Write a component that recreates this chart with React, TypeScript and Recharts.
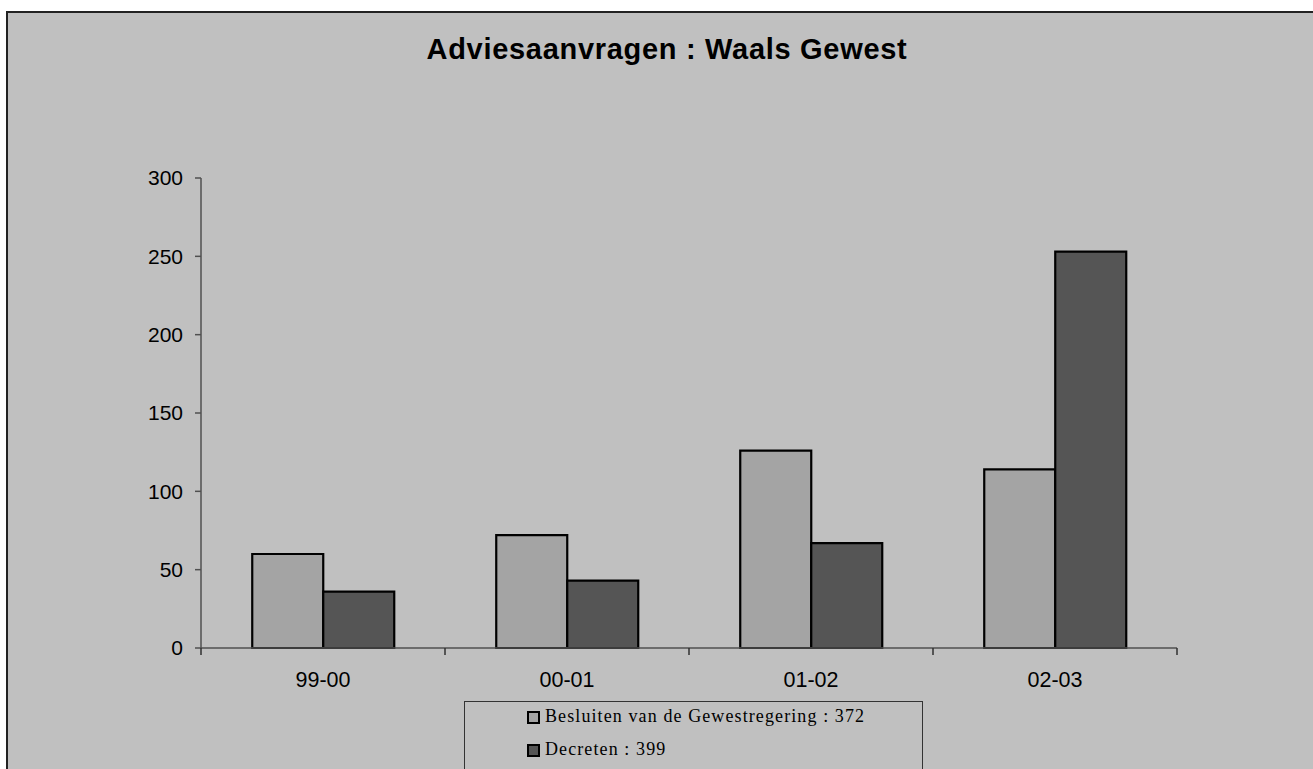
import { BarChart, Bar, XAxis, YAxis } from 'recharts'

const categories = ['99-00', '00-01', '01-02', '02-03']
const besluiten = [60, 72, 126, 114]
const decreten = [36, 43, 67, 253]
const yTicks = [0, 50, 100, 150, 200, 250, 300]

const SERIES = [
  { key: 'besluiten', name: 'Besluiten van de Gewestregering', color: '#a4a4a4', values: besluiten },
  { key: 'decreten', name: 'Decreten', color: '#555555', values: decreten },
]

const data = categories.map((cat, i) => ({
  cat,
  besluiten: besluiten[i],
  decreten: decreten[i],
}))

const total = (values: number[]) => values.reduce((a, b) => a + b, 0)

const FONT = '"Liberation Sans", Arial, sans-serif'

// label in the middle of the category, tick mark on the category edge (Excel style)
function CategoryTick(props: any) {
  const { x, y, payload, index } = props
  const half = payload?.offset ?? 0
  const axisY = y - 24
  return (
    <g>
      <line x1={x - half} y1={axisY} x2={x - half} y2={axisY + 7} stroke="#303030" strokeWidth={1.5} />
      {index === categories.length - 1 && (
        <line x1={x + half} y1={axisY} x2={x + half} y2={axisY + 7} stroke="#303030" strokeWidth={1.5} />
      )}
      <text x={x} y={y} dy="0.71em" textAnchor="middle" fill="#000" fontSize={21.5} fontFamily={FONT}>
        {payload.value}
      </text>
    </g>
  )
}

export default function App() {
  return (
    <div
      style={{
        position: 'absolute',
        left: 0,
        top: 0,
        width: 1313,
        height: 769,
        overflow: 'hidden',
        background: '#ffffff',
      }}
    >
      {/* frame */}
      <div
        style={{
          position: 'absolute',
          left: 6,
          top: 11,
          width: 1340,
          height: 800,
          border: '2px solid #222',
          background: '#c0c0c0',
        }}
      />

      <div
        style={{
          position: 'absolute',
          left: 0,
          top: 35,
          width: 1334,
          textAlign: 'center',
          fontFamily: FONT,
          fontWeight: 'bold',
          fontSize: 29,
          lineHeight: '29px',
          letterSpacing: 0.7,
          color: '#000',
        }}
      >
        Adviesaanvragen : Waals Gewest
      </div>

      <div style={{ position: 'absolute', left: 0, top: 0 }}>
        <BarChart
          width={1313}
          height={769}
          data={data}
          margin={{ top: 178, right: 136, left: 141, bottom: 81 }}
          barCategoryGap="21%"
          barGap={0}
        >
          <XAxis
            dataKey="cat"
            height={40}
            interval={0}
            axisLine={{ stroke: '#505050', strokeWidth: 1.5 }}
            tickLine={false}
            tickSize={0}
            tickMargin={24}
            tick={<CategoryTick />}
          />
          <YAxis
            width={60}
            domain={[0, 300]}
            ticks={yTicks}
            interval={0}
            axisLine={{ stroke: '#505050', strokeWidth: 1.5 }}
            tickLine={{ stroke: '#505050', strokeWidth: 1.5 }}
            tickSize={6}
            tickMargin={12}
            tick={{ fill: '#000', fontSize: 21, fontFamily: FONT }}
          />
          {SERIES.map((s) => (
            <Bar
              key={s.key}
              dataKey={s.key}
              name={s.name}
              fill={s.color}
              stroke="#000"
              strokeWidth={2.2}
              isAnimationActive={false}
            />
          ))}
        </BarChart>
      </div>

      {/* legend */}
      <div
        style={{
          position: 'absolute',
          left: 464,
          top: 701,
          width: 457,
          height: 100,
          border: '1px solid #333',
          background: '#c0c0c0',
          fontFamily: '"Liberation Serif", "Times New Roman", serif',
          fontSize: 18,
          letterSpacing: 1.1,
          color: '#000',
        }}
      >
        {SERIES.map((s) => (
          <div key={s.key} style={{ height: 33, lineHeight: '28px', paddingLeft: 62, whiteSpace: 'nowrap' }}>
            <span
              style={{
                display: 'inline-block',
                width: 13,
                height: 13,
                boxSizing: 'border-box',
                border: '2px solid #000',
                background: s.color,
                verticalAlign: '-2px',
                marginRight: 5,
              }}
            />
            {s.name} : {total(s.values)}
          </div>
        ))}
      </div>
    </div>
  )
}
